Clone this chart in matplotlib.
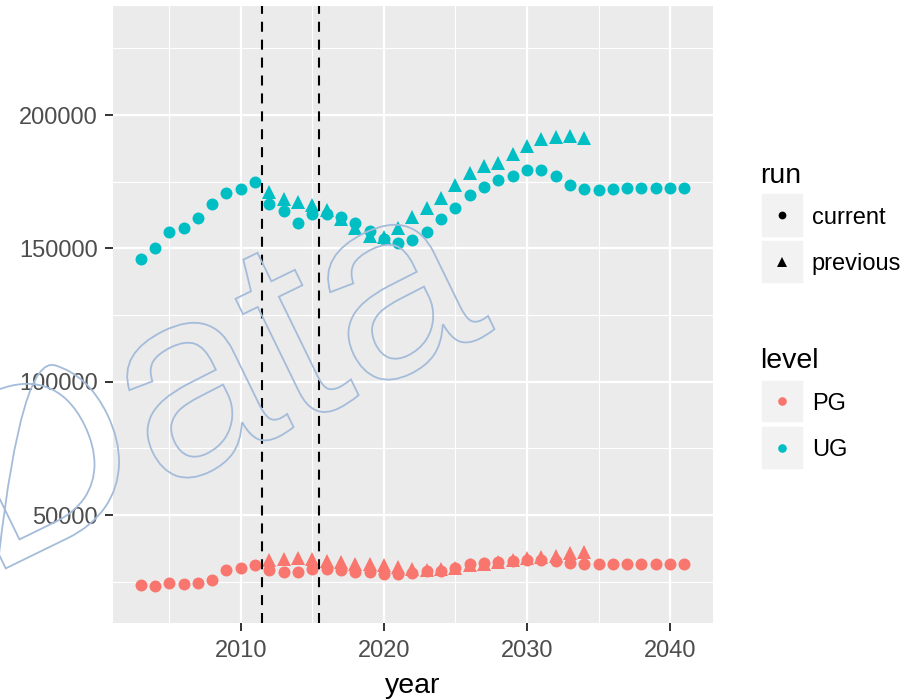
import matplotlib
matplotlib.use("Agg")
import matplotlib.pyplot as plt
import numpy as np
from matplotlib.textpath import TextPath
from matplotlib.patches import PathPatch, Rectangle
from matplotlib.font_manager import FontProperties
from matplotlib.transforms import Affine2D

plt.rcParams['font.family'] = ['Liberation Sans', 'DejaVu Sans']

# ---------------- data ----------------
years_current = list(range(2003, 2042))
ug_current = [145900, 150100, 156300, 157800, 161300, 166700, 170800, 172100, 174800,
              166700, 163900, 159700, 163000, 162800, 161900, 159400, 156600, 153400,
              152000, 153100, 156300, 161000, 165000, 170200, 173200, 175600, 177200,
              179300, 179500, 177200, 173800, 172100, 171900, 172200, 172500, 172700,
              172800, 172800, 172800]
pg_current = [23600, 23300, 24400, 24300, 24600, 25800, 29400, 30200, 31300,
              29200, 28800, 28800, 29700, 29700, 29300, 28800, 28600, 27900,
              27800, 28300, 28900, 29100, 30000, 31600, 32100, 32300, 32600,
              33100, 33100, 32900, 32100, 31600, 31600, 31600, 31700, 31800,
              31800, 31800, 31800]

years_previous = list(range(2012, 2035))
ug_previous = [171200, 168700, 167400, 166200, 164400, 160900, 157800, 154600, 154400,
               157800, 161600, 165300, 168800, 173800, 178100, 180800, 182200, 185500,
               188300, 191000, 191900, 192200, 191500]
pg_previous = [33100, 33500, 33700, 33400, 32600, 32200, 31800, 31500, 31300,
               30600, 29700, 29300, 29600, 30300, 31200, 31800, 32400, 33100,
               33700, 34100, 34600, 35600, 36100]

vlines_year = [2011.5, 2015.5]
x_ticks = [2010, 2020, 2030, 2040]
y_ticks = [50000, 100000, 150000, 200000]

levels = ['PG', 'UG']
runs = ['current', 'previous']
level_colors = {'PG': '#F8766D', 'UG': '#00BFC4'}
run_markers = {'current': 'o', 'previous': '^'}

# ---------------- figure ----------------
W, H = 914, 699
fig = plt.figure(figsize=(W / 100, H / 100), dpi=100, facecolor='white')

def px_rect(x0, y0, x1, y1):
    return [x0 / W, 1 - y1 / H, (x1 - x0) / W, (y1 - y0) / H]

ax = fig.add_axes(px_rect(112.7, 6, 713, 623))
ax.set_facecolor('#EBEBEB')
for s in ax.spines.values():
    s.set_visible(False)

series = [
    ('PG', 'current', years_current, pg_current),
    ('PG', 'previous', years_previous, pg_previous),
    ('UG', 'current', years_current, ug_current),
    ('UG', 'previous', years_previous, ug_previous),
]
for lev, run, xs, ys in series:
    ax.plot(xs, ys, linestyle='none', marker=run_markers[run],
            markersize=8.6 if run == 'current' else 9.6,
            color=level_colors[lev], markeredgewidth=0, zorder=3)

for xv in vlines_year:
    ax.axvline(xv, color='black', linewidth=1.5, dashes=(4.8, 3.8), zorder=4)

ax.set_xlim(2001.05, 2043.0)
ax.set_ylim(9500, 240900)
ax.set_xticks(x_ticks)
ax.set_xticks([2005, 2015, 2025, 2035], minor=True)
ax.set_yticks(y_ticks)
ax.set_yticks([25000, 75000, 125000, 175000, 225000], minor=True)
ax.set_xticklabels([str(v) for v in x_ticks])
ax.set_yticklabels([str(v) for v in y_ticks])
ax.grid(which='major', color='white', linewidth=1.6)
ax.grid(which='minor', color='white', linewidth=0.8)
ax.set_axisbelow(True)
ax.tick_params(which='major', length=5.6, width=1.4, color='#333333',
               labelcolor='#4D4D4D', labelsize=17)
ax.tick_params(axis='x', which='major', pad=6.5)
ax.tick_params(axis='y', which='major', pad=5.0)
ax.tick_params(which='minor', length=0)
ax.set_xlabel('year', fontsize=20.5, color='black', labelpad=8)

# ---------------- legends (drawn in pixel space) ----------------
lg = fig.add_axes([0, 0, 1, 1], zorder=-1)
lg.set_xlim(0, W)
lg.set_ylim(H, 0)
lg.axis('off')

key_x0, key_x1 = 760.7, 804.0
lab_x = 811.7
title_fs = 20.5
lab_fs = 17

def draw_key(y0, y1):
    lg.add_patch(Rectangle((key_x0, y0), key_x1 - key_x0, y1 - y0,
                           facecolor='#F2F2F2', edgecolor='white', linewidth=1.2))

lg.text(key_x0 - 1, 183, 'run', fontsize=title_fs, ha='left', va='baseline')
run_boxes = [(193.3, 237.6), (239.5, 283.8)]
for run, (y0, y1) in zip(runs, run_boxes):
    draw_key(y0, y1)
    cy = (y0 + y1) / 2
    lg.plot([(key_x0 + key_x1) / 2], [cy], marker=run_markers[run],
            markersize=5.6 if run == 'current' else 6.6, color='black',
            markeredgewidth=0, linestyle='none')
    lg.text(lab_x, cy + 2.5, run, fontsize=lab_fs, ha='left', va='center')

lg.text(key_x0 - 1, 368, 'level', fontsize=title_fs, ha='left', va='baseline')
level_boxes = [(379.5, 423.3), (425.5, 469.5)]
for lev, (y0, y1) in zip(levels, level_boxes):
    draw_key(y0, y1)
    cy = (y0 + y1) / 2
    lg.plot([(key_x0 + key_x1) / 2], [cy], marker='o', markersize=6.2,
            color=level_colors[lev], markeredgewidth=0, linestyle='none')
    lg.text(lab_x, cy + 2.5, lev, fontsize=lab_fs, ha='left', va='center')

# ---------------- watermark ----------------
em_px = 268.0
tp = TextPath((0, 0), 'Data', size=em_px / 100.0,
              prop=FontProperties(family='Liberation Sans'))
start_px = (-14, 578)  # baseline start, pixels from top-left
tr = (Affine2D().rotate_deg(26.0)
      .translate(start_px[0] / 100.0, (H - start_px[1]) / 100.0)
      + fig.dpi_scale_trans)
wm = PathPatch(tp, transform=tr, facecolor='none', edgecolor='#A4BCDA',
               linewidth=1.3, zorder=10, clip_on=False)
fig.add_artist(wm)

fig.savefig('out.png', dpi=100, facecolor='white')
